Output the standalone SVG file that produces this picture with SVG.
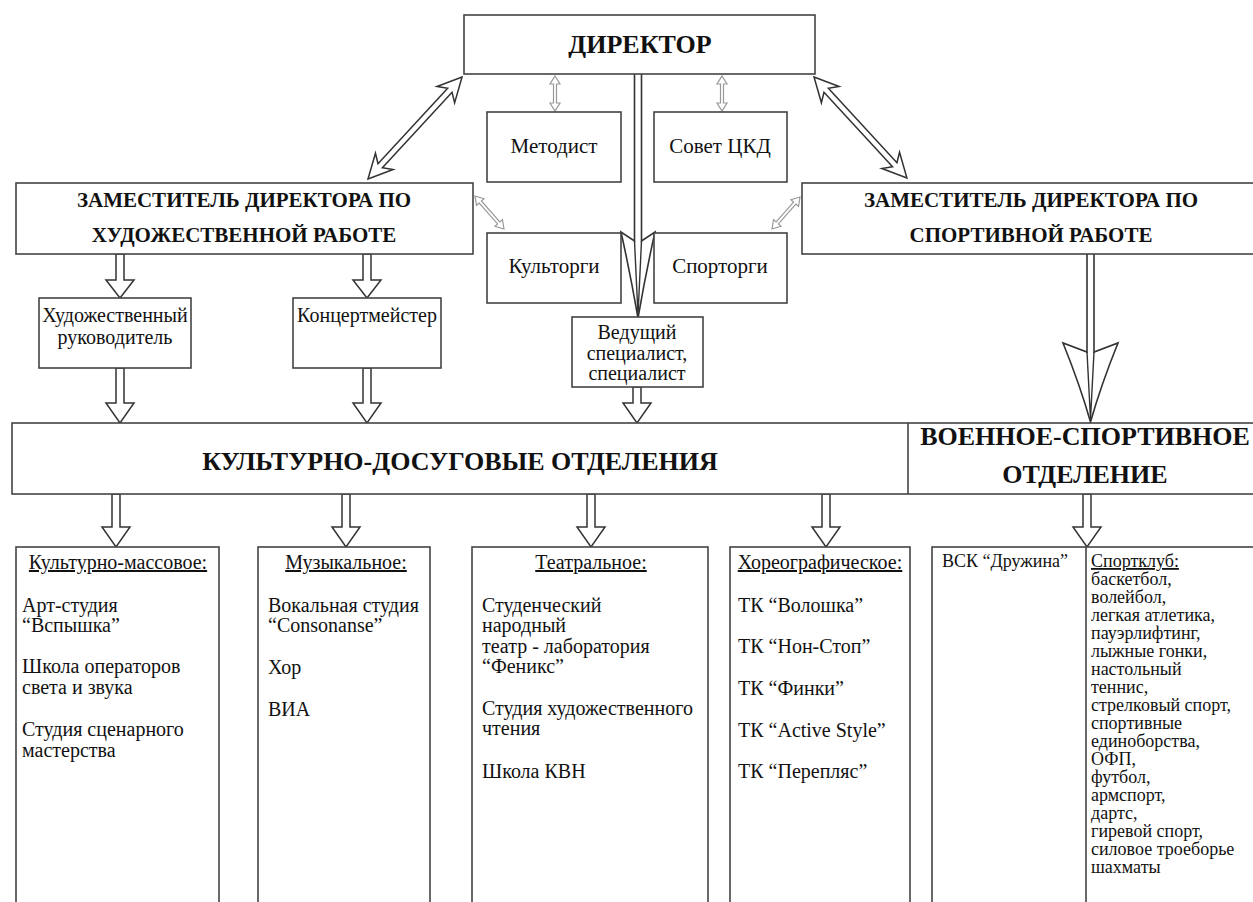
<svg xmlns="http://www.w3.org/2000/svg" width="1253" height="902" viewBox="0 0 1253 902">
<style>
.box{fill:#fff;stroke:#444;stroke-width:1.6}
.ln{fill:none;stroke:#444;stroke-width:1.6}
.arr{fill:#fff;stroke:#333;stroke-width:1.5;stroke-linejoin:miter}
.varr{fill:#fff;stroke:#333;stroke-width:1.6}
.vin{fill:none;stroke:#333;stroke-width:1.4}
.sarr{fill:#fff;stroke:#999;stroke-width:1.2}
.t{font-family:"Liberation Serif","DejaVu Serif","Times New Roman",serif;font-size:20px;fill:#111}
.s{font-size:18px}
.m{font-size:21px}
.h{font-weight:bold;font-size:21px}
.hb{font-weight:bold;font-size:26px}
.c{text-anchor:middle}
.u{text-decoration:underline}
</style>
<rect width="1253" height="902" fill="#fff"/>

<g id="connectors">
  <polygon class="arr" transform="translate(368,179) rotate(-47.3)" points="0,0 24,-12 18,-3 120.7,-3 114.7,-12 138.7,0 114.7,12 120.7,3 18,3 24,12"/>
  <polygon class="arr" transform="translate(814,77) rotate(47.4)" points="0,0 24,-12 18,-3 119.3,-3 113.3,-12 137.3,0 113.3,12 119.3,3 18,3 24,12"/>
  <polygon class="sarr" transform="translate(555,76) rotate(90)" points="0,0 8,-5 8,-1.5 27,-1.5 27,-5 35,0 27,5 27,1.5 8,1.5 8,5"/>
  <polygon class="sarr" transform="translate(722,76) rotate(90)" points="0,0 8,-5 8,-1.5 27,-1.5 27,-5 35,0 27,5 27,1.5 8,1.5 8,5"/>
  <polygon class="sarr" transform="translate(475,196) rotate(48.7)" points="0,0 8,-5 8,-1.5 35.9,-1.5 35.9,-5 43.9,0 35.9,5 35.9,1.5 8,1.5 8,5"/>
  <polygon class="sarr" transform="translate(800,197) rotate(131.2)" points="0,0 8,-5 8,-1.5 34.5,-1.5 34.5,-5 42.5,0 34.5,5 34.5,1.5 8,1.5 8,5"/>
  <path class="varr" d="M634.5,74 L634.5,241 L621,232 Q630,272 638,318 Q646,272 655,232 L641.5,241 L641.5,74"/>
  <path class="vin" d="M634.5,241 L638,315 L641.5,241"/>
  <path class="varr" d="M1087,254 L1087,352 L1063,343 Q1080,385 1090.5,422 Q1101,385 1118,343 L1094,352 L1094,254"/>
  <path class="vin" d="M1087,352 L1090.5,419 L1094,352"/>
  <polygon class="arr" points="116,254 116,280 106,280 120,298 134,280 124,280 124,254"/>
  <polygon class="arr" points="363,254 363,280 353,280 367,298 381,280 371,280 371,254"/>
  <polygon class="arr" points="116,368 116,403 106,403 120,423 134,403 124,403 124,368"/>
  <polygon class="arr" points="363,368 363,403 353,403 367,423 381,403 371,403 371,368"/>
  <polygon class="arr" points="633,387 633,403 623,403 637,423 651,403 641,403 641,387"/>
  <polygon class="arr" points="112,494 112,527 102,527 116,547 130,527 120,527 120,494"/>
  <polygon class="arr" points="342,494 342,527 332,527 346,547 360,527 350,527 350,494"/>
  <polygon class="arr" points="587,494 587,527 577,527 591,547 605,527 595,527 595,494"/>
  <polygon class="arr" points="822,494 822,527 812,527 826,547 840,527 830,527 830,494"/>
  <polygon class="arr" points="1083,494 1083,527 1073,527 1087,547 1101,527 1091,527 1091,494"/>
</g>

<g id="director">
  <rect class="box" x="464" y="15" width="351" height="59"/>
  <text class="t hb c" x="640" y="53">ДИРЕКТОР</text>
</g>
<g id="metodist">
  <rect class="box" x="487" y="112" width="134" height="70"/>
  <text class="t m c" x="554" y="153">Методист</text>
</g>
<g id="sovet">
  <rect class="box" x="654" y="112" width="133" height="70"/>
  <text class="t m c" x="720" y="153">Совет ЦКД</text>
</g>
<g id="kultorgi">
  <rect class="box" x="487" y="233" width="134" height="70"/>
  <text class="t m c" x="554" y="273">Культорги</text>
</g>
<g id="sportorgi">
  <rect class="box" x="654" y="233" width="133" height="70"/>
  <text class="t m c" x="720" y="273">Спорторги</text>
</g>
<g id="deputy-art">
  <rect class="box" x="16" y="183" width="457" height="71"/>
  <text class="t h c" x="244" y="207">ЗАМЕСТИТЕЛЬ ДИРЕКТОРА ПО</text>
  <text class="t h c" x="244" y="242">ХУДОЖЕСТВЕННОЙ РАБОТЕ</text>
</g>
<g id="deputy-sport">
  <rect class="box" x="802" y="183" width="460" height="71"/>
  <text class="t h c" x="1031" y="207">ЗАМЕСТИТЕЛЬ ДИРЕКТОРА ПО</text>
  <text class="t h c" x="1031" y="242">СПОРТИВНОЙ РАБОТЕ</text>
</g>
<g id="art-head">
  <rect class="box" x="39" y="298" width="152" height="70"/>
  <text class="t c" x="115" y="322">Художественный</text>
  <text class="t c" x="115" y="344">руководитель</text>
</g>
<g id="concertmaster">
  <rect class="box" x="293" y="298" width="148" height="70"/>
  <text class="t c" x="367" y="322">Концертмейстер</text>
</g>
<g id="lead-specialist">
  <rect class="box" x="572" y="317" width="131" height="70"/>
  <text class="t c" x="637" y="339">Ведущий</text>
  <text class="t c" x="637" y="360">специалист,</text>
  <text class="t c" x="637" y="380">специалист</text>
</g>
<g id="departments">
  <rect class="box" x="12" y="423" width="1250" height="71"/>
  <line class="ln" x1="908" y1="423" x2="908" y2="494"/>
  <text class="t hb c" x="460" y="470">КУЛЬТУРНО-ДОСУГОВЫЕ ОТДЕЛЕНИЯ</text>
  <text class="t hb c" x="1085" y="445">ВОЕННОЕ-СПОРТИВНОЕ</text>
  <text class="t hb c" x="1085" y="483">ОТДЕЛЕНИЕ</text>
</g>
<g id="mass-culture">
  <rect class="box" x="16" y="547" width="203" height="370"/>
  <text class="t c u" x="118" y="569">Культурно-массовое:</text>
  <text class="t" x="22" y="612">Арт-студия</text>
  <text class="t" x="22" y="632">“Вспышка”</text>
  <text class="t" x="22" y="673">Школа операторов</text>
  <text class="t" x="22" y="694">света и звука</text>
  <text class="t" x="22" y="736">Студия сценарного</text>
  <text class="t" x="22" y="757">мастерства</text>
</g>
<g id="music">
  <rect class="box" x="258" y="547" width="172" height="370"/>
  <text class="t c u" x="346" y="569">Музыкальное:</text>
  <text class="t" x="268" y="612">Вокальная студия</text>
  <text class="t" x="268" y="632">“Consonanse”</text>
  <text class="t" x="268" y="674">Хор</text>
  <text class="t" x="268" y="716">ВИА</text>
</g>
<g id="theatre">
  <rect class="box" x="472" y="547" width="236" height="370"/>
  <text class="t c u" x="591" y="569">Театральное:</text>
  <text class="t" x="482" y="612">Студенческий</text>
  <text class="t" x="482" y="632">народный</text>
  <text class="t" x="482" y="653">театр - лаборатория</text>
  <text class="t" x="482" y="673">“Феникс”</text>
  <text class="t" x="482" y="715">Студия художественного</text>
  <text class="t" x="482" y="735">чтения</text>
  <text class="t" x="482" y="778">Школа КВН</text>
</g>
<g id="choreography">
  <rect class="box" x="730" y="547" width="180" height="370"/>
  <text class="t c u" x="820" y="569">Хореографическое:</text>
  <text class="t" x="738" y="612">ТК “Волошка”</text>
  <text class="t" x="738" y="653">ТК “Нон-Стоп”</text>
  <text class="t" x="738" y="695">ТК “Финки”</text>
  <text class="t" x="738" y="737">ТК “Active Style”</text>
  <text class="t" x="738" y="778">ТК “Перепляс”</text>
</g>
<g id="military-sport">
  <rect class="box" x="932" y="547" width="330" height="370"/>
  <line class="ln" x1="1086" y1="547" x2="1086" y2="917"/>
  <text class="t s" x="942" y="567">ВСК “Дружина”</text>
  <text class="t s u" x="1091" y="567">Спортклуб:</text>
  <text class="t s" x="1091" y="585">баскетбол,</text>
  <text class="t s" x="1091" y="603">волейбол,</text>
  <text class="t s" x="1091" y="621">легкая атлетика,</text>
  <text class="t s" x="1091" y="639">пауэрлифтинг,</text>
  <text class="t s" x="1091" y="657">лыжные гонки,</text>
  <text class="t s" x="1091" y="675">настольный</text>
  <text class="t s" x="1091" y="693">теннис,</text>
  <text class="t s" x="1091" y="711">стрелковый спорт,</text>
  <text class="t s" x="1091" y="729">спортивные</text>
  <text class="t s" x="1091" y="747">единоборства,</text>
  <text class="t s" x="1091" y="765">ОФП,</text>
  <text class="t s" x="1091" y="783">футбол,</text>
  <text class="t s" x="1091" y="801">армспорт,</text>
  <text class="t s" x="1091" y="819">дартс,</text>
  <text class="t s" x="1091" y="837">гиревой спорт,</text>
  <text class="t s" x="1091" y="855">силовое троеборье</text>
  <text class="t s" x="1091" y="873">шахматы</text>
</g>
</svg>
